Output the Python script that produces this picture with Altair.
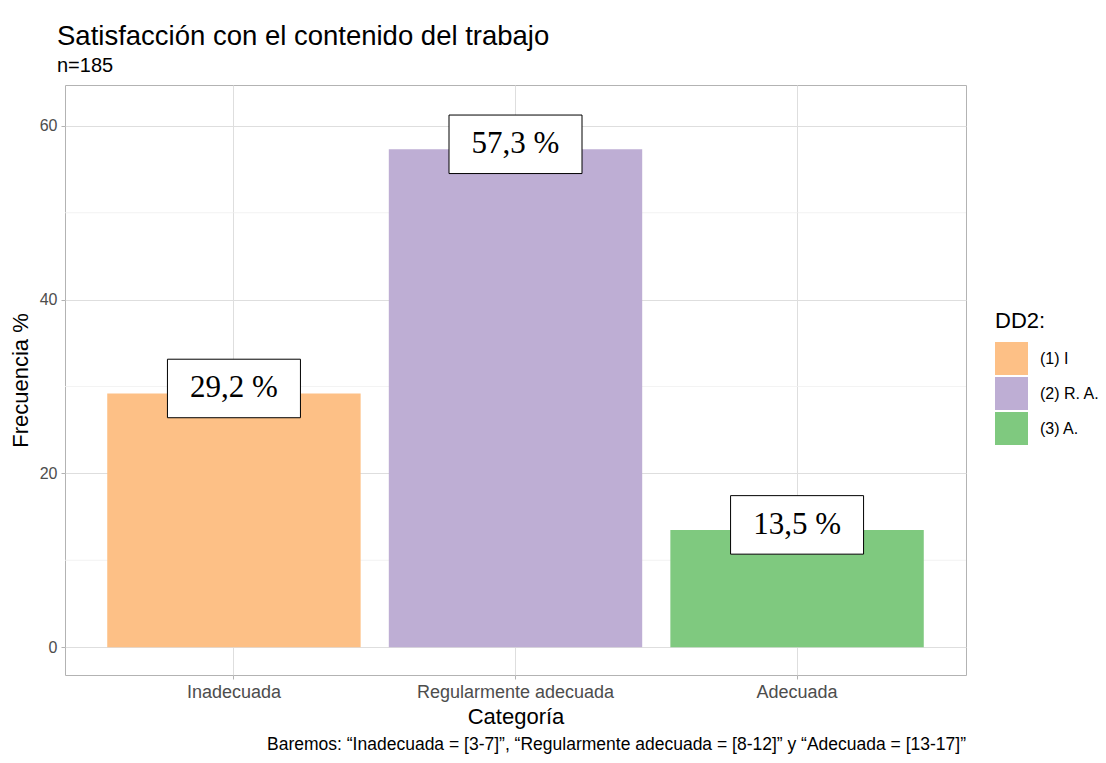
import altair as alt
import pandas as pd

categories = ["Inadecuada", "Regularmente adecuada", "Adecuada"]
values = [29.2, 57.3, 13.5]
legend_labels = ["(1) I", "(2) R. A.", "(3) A."]
colors = ["#FDC086", "#BEAED4", "#7FC97F"]
minor_ticks = [10, 30, 50]
major_ticks = [0, 20, 40, 60]
caption = "Baremos: “Inadecuada = [3-7]”, “Regularmente adecuada = [8-12]” y “Adecuada = [13-17]”"

df = pd.DataFrame({"cat": categories, "val": values, "grp": legend_labels})
minor_df = pd.DataFrame({"v": minor_ticks})
cap_df = pd.DataFrame({"t": [caption]})

W, H = 901, 590
SANS = "Liberation Sans"

x_enc = alt.X("cat:N", sort=categories,
              scale=alt.Scale(paddingInner=0.1, paddingOuter=0.15),
              axis=alt.Axis(title="Categoría", labelAngle=0, grid=True, labelLimit=400))
y_scale = alt.Scale(domain=[-3.2, 64.7], nice=False, zero=False)

minor = alt.Chart(minor_df).mark_rule(color="#EFEFEF", strokeWidth=0.8).encode(
    y=alt.Y("v:Q", scale=y_scale)
)

bars = alt.Chart(df).mark_bar().encode(
    x=x_enc,
    y=alt.Y("val:Q", scale=y_scale,
            axis=alt.Axis(title="Frecuencia %", values=major_ticks, grid=True)),
    color=alt.Color("grp:N", sort=legend_labels,
                    scale=alt.Scale(domain=legend_labels, range=colors),
                    legend=alt.Legend(title="DD2:", orient="none", legendX=930, legendY=226)),
)

box_path = "M-1,-0.44L1,-0.44L1,0.44L-1,0.44Z"
boxes = alt.Chart(df).mark_point(
    shape=box_path, size=133 * 133, filled=True, fill="white", stroke="black",
    strokeWidth=1, opacity=1, yOffset=-5
).encode(
    x=alt.X("cat:N", sort=categories),
    y=alt.Y("val:Q", scale=y_scale),
)

texts = alt.Chart(df).transform_calculate(
    lab="replace(format(datum.val, '.1f'), '.', ',') + ' %'"
).mark_text(font="Liberation Serif", fontSize=31, color="black",
            baseline="middle", align="center", yOffset=-5).encode(
    x=alt.X("cat:N", sort=categories),
    y=alt.Y("val:Q", scale=y_scale),
    text="lab:N",
)

cap = alt.Chart(cap_df).mark_text(font=SANS, fontSize=17.5, color="black",
                                   align="right", baseline="middle").encode(
    x=alt.value(W), y=alt.value(H + 70), text="t:N"
)

chart = alt.layer(minor, bars, boxes, texts, cap).properties(
    width=W, height=H,
    title=alt.TitleParams(
        text="Satisfacción con el contenido del trabajo",
        subtitle="n=185",
        anchor="start", frame="group", dx=-8, offset=9,
        font=SANS, fontSize=27.5, fontWeight="normal", color="black",
        subtitleFont=SANS, subtitleFontSize=20, subtitleColor="black",
        subtitlePadding=6,
    ),
    autosize=alt.AutoSizeParams(type="none"),
    padding={"left": 57, "top": 77, "right": 132, "bottom": 80},
).configure_view(
    stroke="#B3B3B3", strokeWidth=1
).configure_axis(
    labelFont=SANS, labelColor="#4D4D4D",
    titleFont=SANS, titleFontSize=22, titleFontWeight="normal", titleColor="black",
    gridColor="#DEDEDE", gridWidth=1, tickColor="#B3B3B3", tickSize=4,
    domain=False, labelPadding=4,
).configure_axisX(titlePadding=5, labelFontSize=18).configure_axisY(
    titlePadding=7, labelFontSize=16
).configure_legend(
    titleFont=SANS, titleFontSize=22, titleFontWeight="normal", titleColor="black",
    labelFont=SANS, labelFontSize=16, labelColor="black",
    symbolType="square", symbolSize=1089, symbolStrokeWidth=0, symbolOpacity=1,
    rowPadding=2, titlePadding=9, labelOffset=12,
)

chart.save("out.html", embed_options={"renderer": "svg", "actions": False})
